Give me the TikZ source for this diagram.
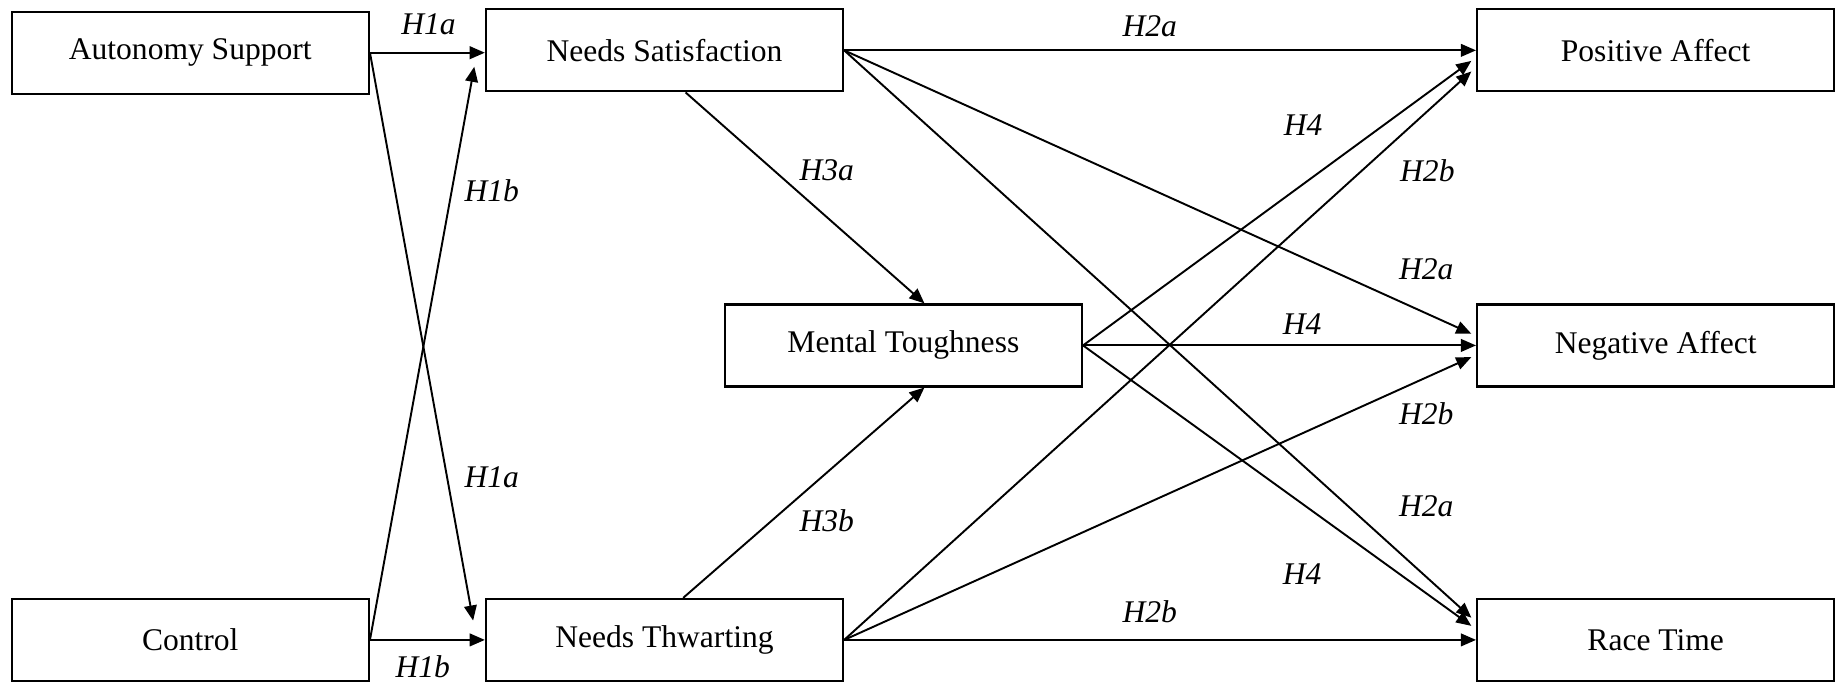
\documentclass[tikz,border=0pt]{standalone}
\usepackage{fontspec}
\setmainfont{Liberation Serif}
\usetikzlibrary{arrows.meta,calc}

\begin{document}
\begin{tikzpicture}[x=0.015cm, y=-0.015cm,
  box/.style={draw, line width=0.8pt, minimum width=4.575cm, minimum height=1.05cm,
    inner sep=0pt, font=\fontsize{11.5}{14}\selectfont},
  hyp/.style={inner sep=1pt, font=\fontsize{11.5}{14}\selectfont\itshape},
  link/.style={line width=0.7pt, -{Triangle[length=5.5pt, width=4.6pt]}}]
  \useasboundingbox (0,0) rectangle (1568,583);
  \node[box] (as) at (162.5,45) {Autonomy Support};
  \node[box] (co) at (162.5,546.5) {Control};
  \node[box] (ns) at (567.5,43) {Needs Satisfaction};
  \node[box] (nt) at (567.5,546.5) {Needs Thwarting};
  \node[box] (mt) at (771.5,295) {Mental Toughness};
  \node[box] (pa) at (1414,43) {Positive Affect};
  \node[box] (na) at (1414,295) {Negative Affect};
  \node[box] (rt) at (1414,546.5) {Race Time};
  \coordinate (nt-in) at ($(nt.west)+(-10,-16.5)$);
  \coordinate (ns-in) at ($(ns.west)+(-9,14)$);
  \coordinate (ns-out) at ($(ns.south)+(18,0)$);
  \coordinate (nt-out) at ($(nt.north)+(16,0)$);
  \coordinate (mt-top) at ($(mt.north)+(18,0)$);
  \coordinate (mt-bot) at ($(mt.south)+(18,0)$);
  \coordinate (pa-mt) at ($(pa.west)+(-4,9)$);
  \coordinate (pa-nt) at ($(pa.west)+(-4,18)$);
  \coordinate (na-ns) at ($(na.west)+(-4,-10)$);
  \coordinate (na-nt) at ($(na.west)+(-4,10)$);
  \coordinate (rt-ns) at ($(rt.west)+(-4,-19)$);
  \coordinate (rt-mt) at ($(rt.west)+(-4,-12)$);
  \draw[link] (as.east) -- (as.east -| ns.west);
  \draw[link] (as.east) -- (nt-in);
  \draw[link] (co.east) -- (ns-in);
  \draw[link] (co.east) -- (co.east -| nt.west);
  \draw[link] (ns.east) -- (pa.west);
  \draw[link] (ns.east) -- (na-ns);
  \draw[link] (ns.east) -- (rt-ns);
  \draw[link] (ns-out) -- (mt-top);
  \draw[link] (nt-out) -- (mt-bot);
  \draw[link] (mt.east) -- (pa-mt);
  \draw[link] (mt.east) -- (na.west);
  \draw[link] (mt.east) -- (rt-mt);
  \draw[link] (nt.east) -- (pa-nt);
  \draw[link] (nt.east) -- (na-nt);
  \draw[link] (nt.east) -- (rt.west);
  \node[hyp] (h1a-as) at (366,21) {H1a};
  \node[hyp] (h1b-co) at (420,163) {H1b};
  \node[hyp] (h1a-nt) at (420,408) {H1a};
  \node[hyp] (h1b-nt) at (361,569) {H1b};
  \node[hyp] (h2a-pa) at (982,22) {H2a};
  \node[hyp] (h3a) at (706,145) {H3a};
  \node[hyp] (h3b) at (706,445) {H3b};
  \node[hyp] (h4-pa) at (1113,107) {H4};
  \node[hyp] (h2b-pa) at (1219,146) {H2b};
  \node[hyp] (h2a-na) at (1218,230) {H2a};
  \node[hyp] (h4-na) at (1112,277) {H4};
  \node[hyp] (h2b-na) at (1218,353) {H2b};
  \node[hyp] (h2a-rt) at (1218,432) {H2a};
  \node[hyp] (h4-rt) at (1112,490) {H4};
  \node[hyp] (h2b-rt) at (982,522) {H2b};
\end{tikzpicture}
\end{document}
